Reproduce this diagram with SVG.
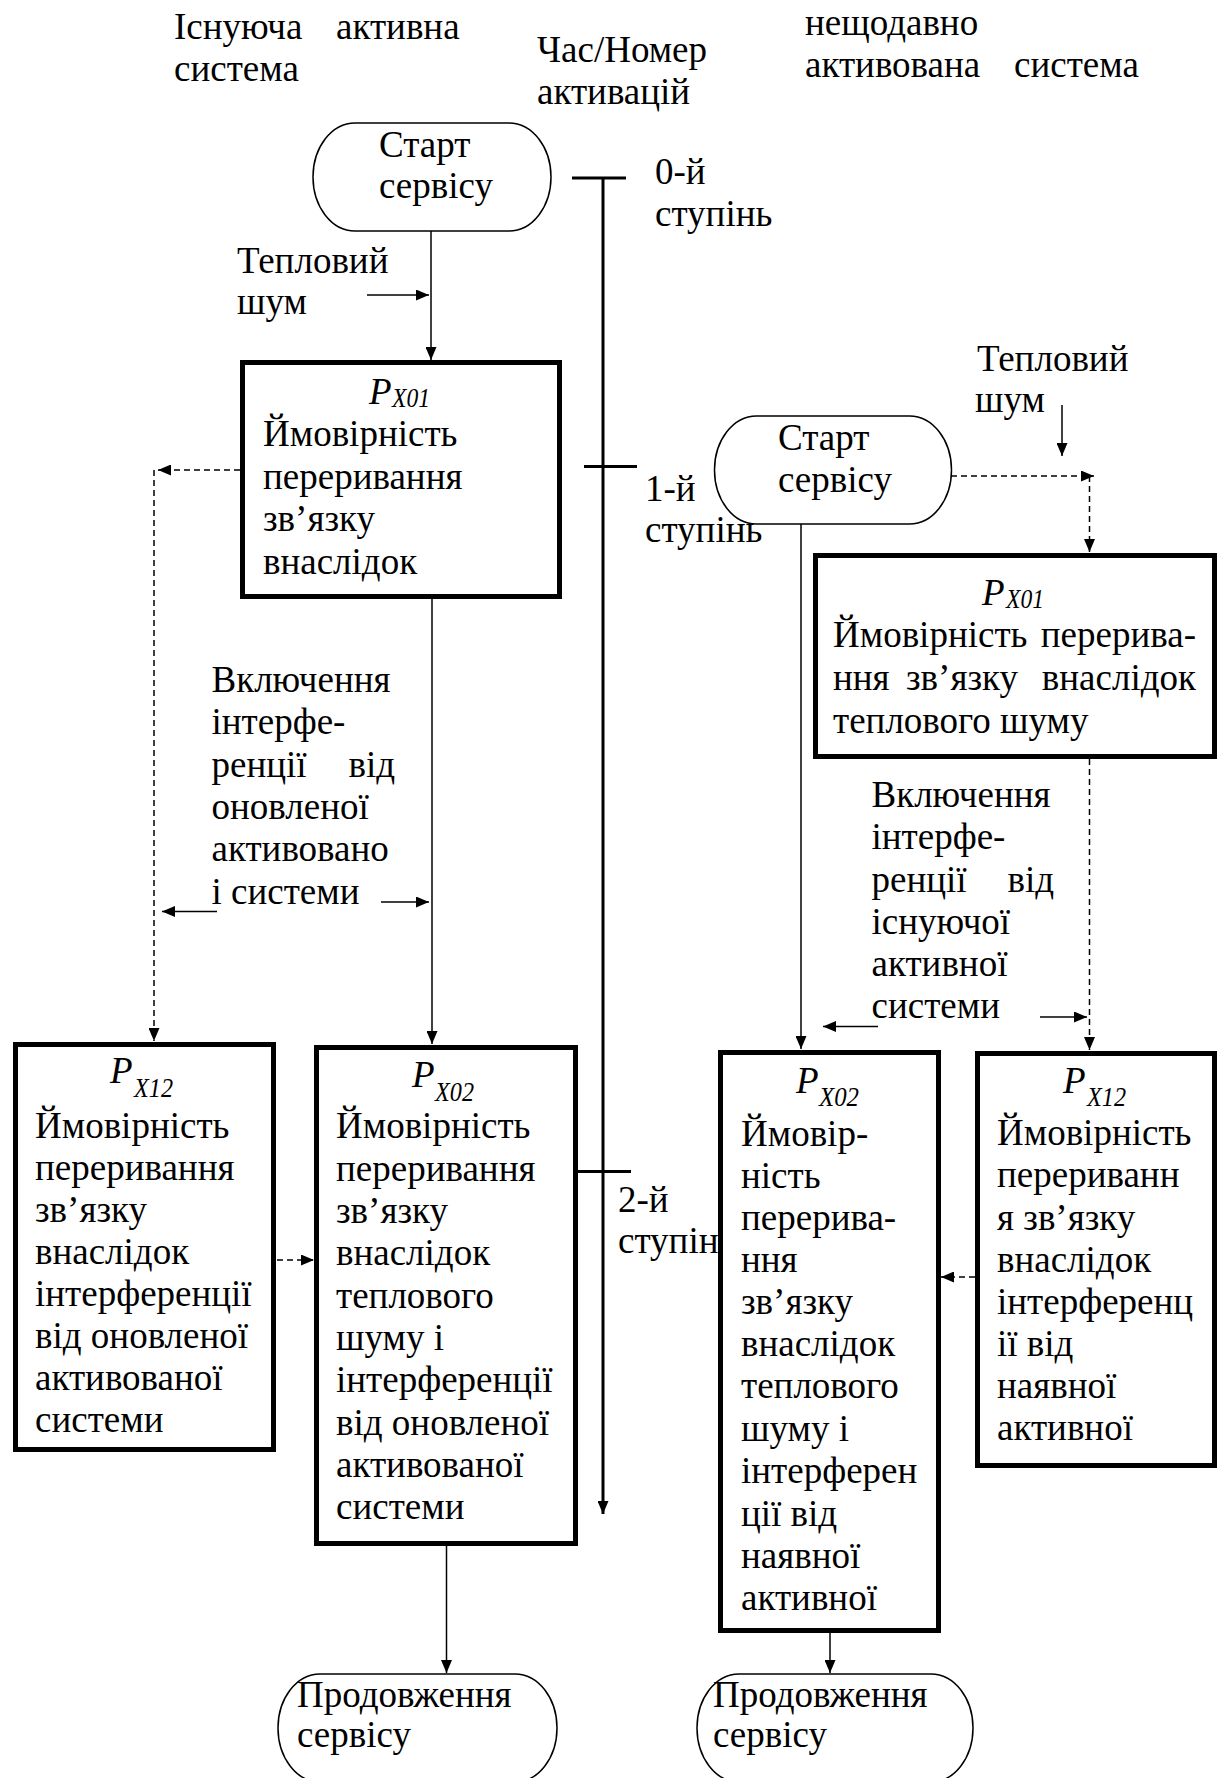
<svg xmlns="http://www.w3.org/2000/svg" width="1219" height="1778" viewBox="0 0 1219 1778">
<style>
.t{font-family:"Liberation Serif","Times New Roman",serif;font-size:37px;fill:#000}
.p{font-family:"Liberation Serif","Times New Roman",serif;font-size:37px;font-style:italic;fill:#000}
.s{font-family:"Liberation Serif","Times New Roman",serif;font-size:27px;font-style:italic;fill:#000}
.box{fill:#fff;stroke:#000;stroke-width:5}
.ov{fill:none;stroke:#000;stroke-width:1.5}
.ln{fill:none;stroke:#000;stroke-width:1.5}
.ds{fill:none;stroke:#000;stroke-width:1.5;stroke-dasharray:6 4}
.tl{fill:none;stroke:#000;stroke-width:3}
</style>
<defs>
<marker id="ah" viewBox="0 0 13 11" refX="13" refY="5.5" markerWidth="13" markerHeight="11" markerUnits="userSpaceOnUse" orient="auto"><path d="M0,0 L13,5.5 L0,11 z" fill="#000"/></marker>
</defs>
<rect width="1219" height="1778" fill="#fff"/>

<g id="labels">
<text class="t" x="174" y="39">Існуюча</text>
<text class="t" x="336" y="39">активна</text>
<text class="t" x="174" y="81">система</text>
<text class="t" x="537" y="62">Час/Номер</text>
<text class="t" x="537" y="104">активацій</text>
<text class="t" x="805" y="35">нещодавно</text>
<text class="t" x="805" y="77">активована</text>
<text class="t" x="1014" y="77">система</text>
<text class="t" x="655" y="184">0-й</text>
<text class="t" x="655" y="226">ступінь</text>
<text class="t" x="645" y="501">1-й</text>
<text class="t" x="645" y="542">ступінь</text>
<text class="t" x="618" y="1212">2-й</text>
<text class="t" x="618" y="1253">ступін</text>
<text class="t" x="237" y="273">Тепловий</text>
<text class="t" x="237" y="314">шум</text>
<text class="t" x="977" y="371">Тепловий</text>
<text class="t" x="975" y="412">шум</text>
<text class="t" x="211.5" y="692">Включення</text>
<text class="t" x="211.5" y="734">інтерфе-</text>
<text class="t" x="211.5" y="777">ренції</text>
<text class="t" x="395" y="777" text-anchor="end">від</text>
<text class="t" x="211.5" y="819">оновленої</text>
<text class="t" x="211.5" y="861">активовано</text>
<text class="t" x="211.5" y="904">і системи</text>
<text class="t" x="871.5" y="807">Включення</text>
<text class="t" x="871.5" y="849">інтерфе-</text>
<text class="t" x="871.5" y="892">ренції</text>
<text class="t" x="1054" y="892" text-anchor="end">від</text>
<text class="t" x="871.5" y="934">існуючої</text>
<text class="t" x="871.5" y="976">активної</text>
<text class="t" x="871.5" y="1018">системи</text>
</g>

<g id="start-existing">
<rect class="ov" x="313" y="123" width="238" height="108" rx="42" ry="54"/>
<text class="t" x="379" y="157">Старт</text>
<text class="t" x="379" y="198">сервісу</text>
</g>

<g id="start-new">
<rect class="ov" x="714.5" y="416" width="237" height="108" rx="42" ry="54"/>
<text class="t" x="778" y="450">Старт</text>
<text class="t" x="778" y="492">сервісу</text>
</g>

<g id="px01-existing">
<rect class="box" x="242.5" y="362.5" width="317" height="234"/>
<text class="p" x="369" y="404">P</text><text class="s" x="392" y="407" textLength="38" lengthAdjust="spacingAndGlyphs">X01</text>
<text class="t" x="263" y="446">Ймовірність</text>
<text class="t" x="263" y="488.5">переривання</text>
<text class="t" x="263" y="531">зв’язку</text>
<text class="t" x="263" y="573.5">внаслідок</text>
</g>

<g id="px01-new">
<rect class="box" x="815.5" y="555.5" width="399" height="201"/>
<text class="p" x="982" y="605">P</text><text class="s" x="1006" y="608" textLength="38" lengthAdjust="spacingAndGlyphs">X01</text>
<text class="t" x="833" y="647">Ймовірність</text>
<text class="t" x="1196" y="647" text-anchor="end">перерива-</text>
<text class="t" x="833" y="690">ння</text>
<text class="t" x="906" y="690">зв’язку</text>
<text class="t" x="1196" y="690" text-anchor="end">внаслідок</text>
<text class="t" x="833" y="733">теплового шуму</text>
</g>

<g id="px12-existing">
<rect class="box" x="15.5" y="1044.5" width="258" height="405"/>
<text class="p" x="110" y="1083">P</text><text class="s" x="134" y="1097" textLength="39" lengthAdjust="spacingAndGlyphs">X12</text>
<text class="t" x="35" y="1138">Ймовірність</text>
<text class="t" x="35" y="1180">переривання</text>
<text class="t" x="35" y="1222">зв’язку</text>
<text class="t" x="35" y="1264">внаслідок</text>
<text class="t" x="35" y="1306">інтерференції</text>
<text class="t" x="35" y="1348">від оновленої</text>
<text class="t" x="35" y="1390">активованої</text>
<text class="t" x="35" y="1432">системи</text>
</g>

<g id="px02-existing">
<rect class="box" x="316.5" y="1047.5" width="259" height="496"/>
<text class="p" x="412" y="1087">P</text><text class="s" x="435" y="1101" textLength="39" lengthAdjust="spacingAndGlyphs">X02</text>
<text class="t" x="336" y="1138">Ймовірність</text>
<text class="t" x="336" y="1180.5">переривання</text>
<text class="t" x="336" y="1223">зв’язку</text>
<text class="t" x="336" y="1265">внаслідок</text>
<text class="t" x="336" y="1307.5">теплового</text>
<text class="t" x="336" y="1350">шуму і</text>
<text class="t" x="336" y="1392">інтерференції</text>
<text class="t" x="336" y="1434.5">від оновленої</text>
<text class="t" x="336" y="1477">активованої</text>
<text class="t" x="336" y="1519">системи</text>
</g>

<g id="px02-new">
<rect class="box" x="720.5" y="1052.5" width="218" height="578"/>
<text class="p" x="796" y="1093">P</text><text class="s" x="819" y="1106" textLength="40" lengthAdjust="spacingAndGlyphs">X02</text>
<text class="t" x="741" y="1146">Ймовір-</text>
<text class="t" x="741" y="1188">ність</text>
<text class="t" x="741" y="1230">перерива-</text>
<text class="t" x="741" y="1272">ння</text>
<text class="t" x="741" y="1314">зв’язку</text>
<text class="t" x="741" y="1356">внаслідок</text>
<text class="t" x="741" y="1398">теплового</text>
<text class="t" x="741" y="1441">шуму і</text>
<text class="t" x="741" y="1483">інтерферен</text>
<text class="t" x="741" y="1526">ції від</text>
<text class="t" x="741" y="1568">наявної</text>
<text class="t" x="741" y="1610">активної</text>
</g>

<g id="px12-new">
<rect class="box" x="977.5" y="1053.5" width="237" height="412"/>
<text class="p" x="1063" y="1093">P</text><text class="s" x="1087" y="1106" textLength="39" lengthAdjust="spacingAndGlyphs">X12</text>
<text class="t" x="997" y="1145">Ймовірність</text>
<text class="t" x="997" y="1187">перериванн</text>
<text class="t" x="997" y="1230">я зв’язку</text>
<text class="t" x="997" y="1272">внаслідок</text>
<text class="t" x="997" y="1314">інтерференц</text>
<text class="t" x="997" y="1356">ії від</text>
<text class="t" x="997" y="1398">наявної</text>
<text class="t" x="997" y="1440">активної</text>
</g>

<g id="continue-existing">
<rect class="ov" x="278" y="1674" width="279" height="108" rx="42" ry="54"/>
<text class="t" x="297" y="1707">Продовження</text>
<text class="t" x="297" y="1747">сервісу</text>
</g>

<g id="continue-new">
<rect class="ov" x="697" y="1674" width="276" height="108" rx="42" ry="54"/>
<text class="t" x="713" y="1707">Продовження</text>
<text class="t" x="713" y="1747">сервісу</text>
</g>

<g id="connectors">
<line class="tl" x1="603" y1="178" x2="603" y2="1514" marker-end="url(#ah)"/>
<line class="tl" x1="572" y1="178" x2="626" y2="178"/>
<line class="tl" x1="584" y1="466.5" x2="637" y2="466.5"/>
<line class="tl" x1="578" y1="1171.5" x2="631" y2="1171.5"/>
<line class="ln" x1="431" y1="231" x2="431" y2="360" marker-end="url(#ah)"/>
<line class="ln" x1="367" y1="295" x2="429" y2="295" marker-end="url(#ah)"/>
<line class="ds" x1="240" y1="470" x2="158" y2="470" marker-end="url(#ah)"/>
<line class="ds" x1="154" y1="470" x2="154" y2="1041" marker-end="url(#ah)"/>
<line class="ln" x1="432" y1="599" x2="432" y2="1044" marker-end="url(#ah)"/>
<line class="ln" x1="217" y1="911.5" x2="162" y2="911.5" marker-end="url(#ah)"/>
<line class="ln" x1="381" y1="902" x2="429" y2="902" marker-end="url(#ah)"/>
<line class="ds" x1="277" y1="1260" x2="314" y2="1260" marker-end="url(#ah)"/>
<line class="ln" x1="446.5" y1="1546" x2="446.5" y2="1673" marker-end="url(#ah)"/>
<line class="ln" x1="1062" y1="405" x2="1062" y2="456" marker-end="url(#ah)"/>
<line class="ds" x1="951" y1="476" x2="1094" y2="476" marker-end="url(#ah)"/>
<line class="ds" x1="1089.5" y1="476" x2="1089.5" y2="552" marker-end="url(#ah)"/>
<line class="ln" x1="801" y1="524" x2="801" y2="1049" marker-end="url(#ah)"/>
<line class="ds" x1="1089.5" y1="759" x2="1089.5" y2="1050" marker-end="url(#ah)"/>
<line class="ln" x1="878" y1="1026.5" x2="823" y2="1026.5" marker-end="url(#ah)"/>
<line class="ln" x1="1040" y1="1017" x2="1087" y2="1017" marker-end="url(#ah)"/>
<line class="ds" x1="975" y1="1277" x2="941" y2="1277" marker-end="url(#ah)"/>
<line class="ln" x1="830" y1="1633" x2="830" y2="1673" marker-end="url(#ah)"/>
</g>
</svg>
